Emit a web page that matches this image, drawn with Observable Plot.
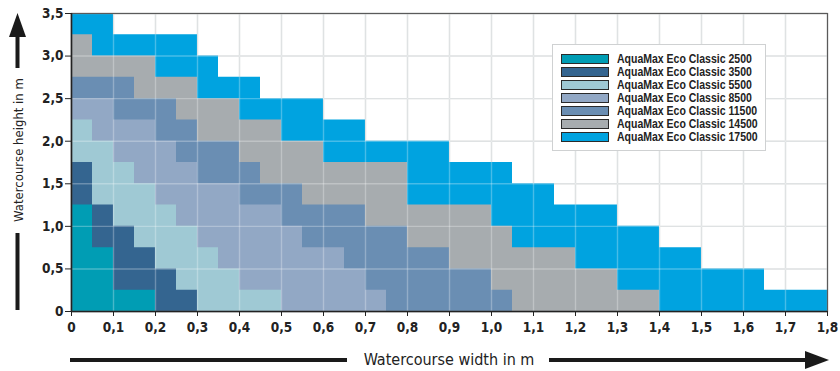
<!DOCTYPE html>
<html>
<head>
<meta charset="utf-8">
<script src="https://cdn.jsdelivr.net/npm/d3@7"></script>
<script src="https://cdn.jsdelivr.net/npm/@observablehq/plot@0.6"></script>
<style>
  html, body { margin: 0; padding: 0; background: #fff; }
  #wrap { position: relative; width: 840px; height: 371px; }
  #legend {
    position: absolute; left: 552px; top: 44px; width: 214px; height: 107px;
    background: #fff; border: 1.5px solid #cfd1d2; box-sizing: border-box;
    font-family: "Liberation Sans", Arial, sans-serif;
    font-weight: bold; font-size: 12px; color: #222; padding-top: 7px;
    white-space: nowrap;
  }
  .row { display: flex; align-items: center; height: 13px; }
  .sw { width: 46px; height: 8px; border: 1px solid #2a2a2a; margin-left: 8px; margin-right: 8px; flex: none; }
  .lt { display: inline-block; transform: scaleX(0.875); transform-origin: left center; }
</style>
</head>
<body>
<div id="wrap"></div>
<script>
// ---- data ----
const models = [
  "AquaMax Eco Classic 2500",
  "AquaMax Eco Classic 3500",
  "AquaMax Eco Classic 5500",
  "AquaMax Eco Classic 8500",
  "AquaMax Eco Classic 11500",
  "AquaMax Eco Classic 14500",
  "AquaMax Eco Classic 17500"
];
const colors = ["#009db4", "#346590", "#9fc9d4", "#92a8c5", "#6a8eb3", "#a7acaf", "#00a3e0"];

// steps: [width at end of step (m), height (m)]
const steps2500  = [[0.05, 1.25], [0.10, 0.75], [0.20, 0.25]];
const steps3500  = [[0.05, 1.75], [0.10, 1.25], [0.15, 1.0], [0.20, 0.75], [0.25, 0.5], [0.30, 0.25]];
const steps5500  = [[0.05, 2.25], [0.10, 2.0], [0.15, 1.75], [0.20, 1.5], [0.25, 1.25], [0.30, 1.0], [0.35, 0.75], [0.40, 0.5], [0.50, 0.25]];
const steps8500  = [[0.10, 2.5], [0.20, 2.25], [0.25, 2.0], [0.30, 1.75], [0.40, 1.5], [0.50, 1.25], [0.55, 1.0], [0.65, 0.75], [0.70, 0.5], [0.75, 0.25]];
const steps11500 = [[0.15, 2.75], [0.25, 2.5], [0.30, 2.25], [0.40, 2.0], [0.45, 1.75], [0.55, 1.5], [0.70, 1.25], [0.80, 1.0], [0.90, 0.75], [1.00, 0.5], [1.05, 0.25]];
const steps14500 = [[0.05, 3.25], [0.20, 3.0], [0.30, 2.75], [0.40, 2.5], [0.50, 2.25], [0.60, 2.0], [0.80, 1.75], [1.00, 1.25], [1.05, 1.0], [1.20, 0.75], [1.30, 0.5], [1.40, 0.25]];
const steps17500 = [[0.10, 3.5], [0.30, 3.25], [0.35, 3.0], [0.45, 2.75], [0.60, 2.5], [0.70, 2.25], [0.90, 2.0], [1.05, 1.75], [1.15, 1.5], [1.30, 1.25], [1.40, 1.0], [1.50, 0.75], [1.65, 0.5], [1.80, 0.25]];

const xTicks = [0, 0.1, 0.2, 0.3, 0.4, 0.5, 0.6, 0.7, 0.8, 0.9, 1.0, 1.1, 1.2, 1.3, 1.4, 1.5, 1.6, 1.7, 1.8];
const yTicks = [0, 0.5, 1.0, 1.5, 2.0, 2.5, 3.0, 3.5];
const xLabel = "Watercourse width in m";
const yLabel = "Watercourse height in m";

// ---- build ----
const allSteps = [steps2500, steps3500, steps5500, steps8500, steps11500, steps14500, steps17500];
const pts = [];
for (let i = allSteps.length - 1; i >= 0; i--) {
  let x0 = 0;
  const s = allSteps[i];
  s.forEach(([xe, h]) => { pts.push({model: models[i], x: x0, h}); x0 = xe; });
  pts.push({model: models[i], x: x0, h: s[s.length - 1][1]});
}
const fmt = d => d === 0 ? "0" : d.toFixed(1).replace(".", ",");
const font = `"DejaVu Sans Condensed", "Liberation Sans", sans-serif`;

const chart = Plot.plot({
  width: 840, height: 371,
  marginLeft: 71, marginRight: 13, marginTop: 13, marginBottom: 60,
  style: {fontFamily: font, background: "#fff"},
  x: {domain: [0, 1.8]},
  y: {domain: [0, 3.5]},
  color: {domain: models, range: colors},
  marks: [
    Plot.gridX(xTicks, {stroke: "#d3d7d8", strokeOpacity: 1, strokeWidth: 1.4}),
    Plot.gridY(yTicks, {stroke: "#d3d7d8", strokeOpacity: 1, strokeWidth: 1.4}),
    Plot.area(pts, {x1: "x", y1: 0, y2: "h", z: "model", fill: "model", curve: "step-after"}),
    Plot.gridX(xTicks, {stroke: "#ffffff", strokeOpacity: 0.28, strokeWidth: 1.4}),
    Plot.gridY(yTicks, {stroke: "#ffffff", strokeOpacity: 0.28, strokeWidth: 1.4}),
    Plot.frame({stroke: "#5a5a5a", strokeWidth: 1.2}),
    Plot.axisX(xTicks, {tickFormat: fmt, tickSize: 5, tickPadding: 6, fontSize: 13.5, fontWeight: "bold", fill: "#222", stroke: "#222", label: null}),
    Plot.axisY(yTicks, {tickFormat: fmt, tickSize: 6, tickPadding: 2, fontSize: 13.5, fontWeight: "bold", fill: "#222", stroke: "#222", label: null}),
    Plot.ruleY([0], {stroke: "#222", strokeWidth: 1.6}),
    Plot.ruleX([0], {stroke: "#222", strokeWidth: 1.6})
  ]
});

const wrap = document.getElementById("wrap");
wrap.appendChild(chart);

// decorations: axis labels with arrows
const svg = d3.select(chart);
const g = svg.append("g").attr("fill", "#1a1a1a");
// x label
g.append("rect").attr("x", 70).attr("y", 358).attr("width", 277).attr("height", 4);
g.append("rect").attr("x", 549).attr("y", 358).attr("width", 258).attr("height", 4);
g.append("path").attr("d", "M805,351 L829,360 L805,369 Z");
g.append("text").attr("x", 449).attr("y", 365).attr("text-anchor", "middle")
  .attr("font-family", font).attr("font-size", 16).attr("fill", "#222").text(xLabel);
// y label
g.append("rect").attr("x", 15.5).attr("y", 35).attr("width", 4).attr("height", 33);
g.append("rect").attr("x", 15.5).attr("y", 233).attr("width", 4).attr("height", 77);
g.append("path").attr("d", "M9,37 L17.5,13 L26,37 Z");
g.append("text").attr("transform", "translate(23,150) rotate(-90)").attr("text-anchor", "middle")
  .attr("font-family", font).attr("font-size", 13).attr("fill", "#222").text(yLabel);

// legend
const leg = document.createElement("div");
leg.id = "legend";
models.forEach((m, i) => {
  const r = document.createElement("div"); r.className = "row";
  const s = document.createElement("div"); s.className = "sw"; s.style.background = colors[i];
  const t = document.createElement("span"); t.className = "lt"; t.textContent = m;
  r.appendChild(s); r.appendChild(t); leg.appendChild(r);
});
wrap.appendChild(leg);
</script>
</body>
</html>
